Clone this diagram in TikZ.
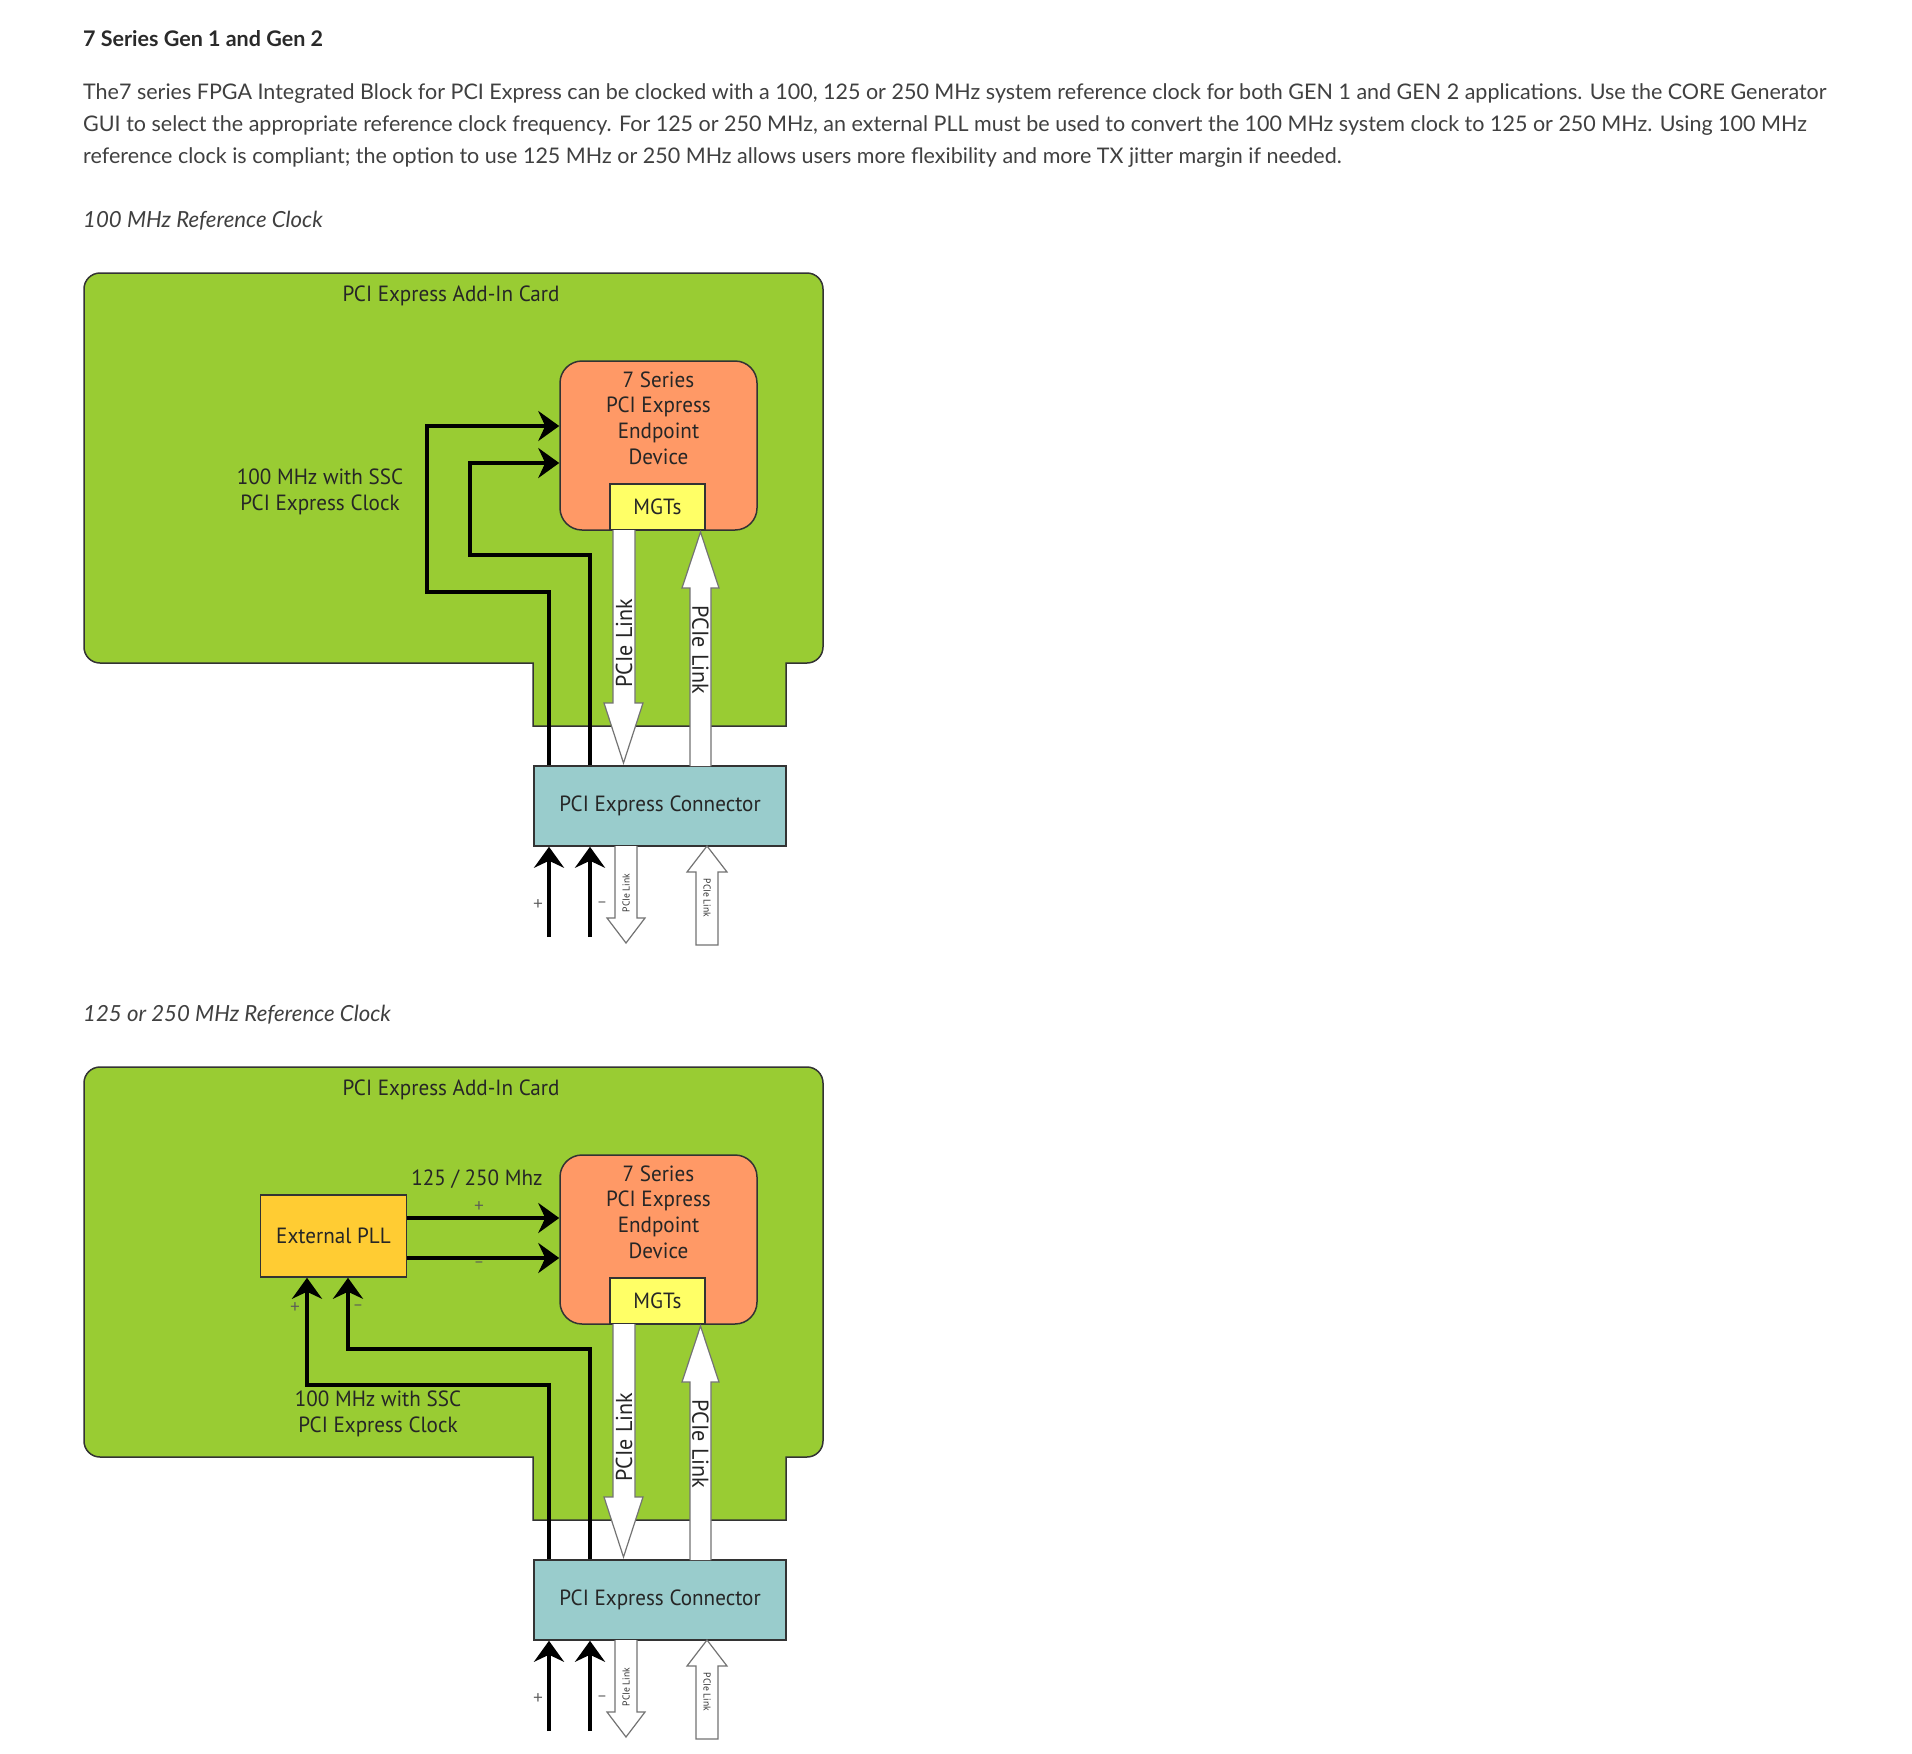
\documentclass[tikz,border=0pt]{standalone}
\usepackage{fontspec}
\setmainfont{Lato}
\newfontfamily\dfont[FakeStretch=0.96]{PT Sans}
\usetikzlibrary{arrows.meta}
\definecolor{cardgreen}{HTML}{99CC33}
\definecolor{devorange}{HTML}{FF9966}
\definecolor{mgtyellow}{HTML}{FFFF66}
\definecolor{conncyan}{HTML}{99CCCC}
\definecolor{pllamber}{HTML}{FFCC33}
\definecolor{paratext}{HTML}{404040}
\definecolor{titletext}{HTML}{2A2A2A}
\definecolor{linegray}{HTML}{333333}
\tikzset{
 para/.style={font=\fontsize{21.5}{24}\selectfont, text=paratext, inner sep=0pt, anchor=mid west},
 dlabel/.style={font=\dfont\fontsize{22}{25.8}\selectfont, text=black!85, inner sep=0pt, align=center},
 cardshape/.style={fill=cardgreen, draw=linegray, line width=1.5pt},
 devbox/.style={draw=linegray, line width=1.5pt, fill=devorange, rounded corners=22pt, minimum width=197pt, minimum height=169pt, inner sep=0pt},
 mgtbox/.style={draw=linegray, line width=1.5pt, fill=mgtyellow, minimum width=95pt, minimum height=46pt, inner sep=0pt, font=\dfont\fontsize{22}{24}\selectfont, text=black!85},
 connbox/.style={draw=linegray, line width=1.5pt, fill=conncyan, minimum width=252pt, minimum height=80pt, inner sep=0pt, font=\dfont\fontsize{22}{24}\selectfont, text=black!85},
 pllbox/.style={draw=linegray, line width=1.5pt, fill=pllamber, minimum width=146pt, minimum height=82pt, inner sep=0pt, font=\dfont\fontsize{22}{24}\selectfont, text=black!85},
 clk/.style={draw=black, line width=3.6pt, -{Stealth[length=21pt,width=30pt,inset=7pt]}},
 hollow/.style={fill=white, draw=black!55, line width=1.2pt},
 pm/.style={font=\fontsize{17}{17}\selectfont, text=black!65, inner sep=0pt},
 linklbl/.style={font=\dfont\fontsize{23}{23}\selectfont, text=black!85, inner sep=0pt},
 tinylink/.style={font=\dfont\fontsize{10}{10}\selectfont, text=black!80, inner sep=0pt},
}
\newcommand\pcicard[1]{%
 \path[cardshape] (300,273) [rounded corners=16pt] -- (823,273) -- (823,663) [sharp corners] -- (786,663) -- (786,726) -- (533,726) -- (533,663) [rounded corners=16pt] -- (84,663) -- (84,273) -- cycle;
 \node[dlabel] (#1-cardtitle) at (451,296) {PCI Express Add-In Card};
 \node[devbox] (#1-dev) at (658.5,445.5) {};
 \node[dlabel] (#1-devtxt) at (658.5,418) {7 Series\\PCI Express\\Endpoint\\Device};
 \node[mgtbox] (#1-mgt) at (657.5,507) {MGTs};
 \node[connbox] (#1-conn) at (660,806) {PCI Express Connector};
 \coordinate (#1-pin) at (549,937);
 \coordinate (#1-nin) at (590,937);
 \draw[clk] (#1-pin) -- (#1-pin |- #1-conn.south);
 \draw[clk] (#1-nin) -- (#1-nin |- #1-conn.south);
 \node[pm] (#1-plus) at (538,905) {+};
 \node[pm] (#1-minus) at (602,905) {–};
 \filldraw[hollow] (613,530) -- (613,703) -- (604,703) -- (623.5,763) -- (643,703) -- (635,703) -- (635,530);
 \filldraw[hollow] (690,766) -- (690,588) -- (682,588) -- (700.5,532) -- (719,588) -- (711,588) -- (711,766);
 \filldraw[hollow] (615,846) -- (615,918) -- (607,918) -- (626,943) -- (645,918) -- (637,918) -- (637,846);
 \filldraw[hollow] (707,846) -- (727,872) -- (718,872) -- (718,945) -- (696,945) -- (696,872) -- (687,872) -- cycle;
 \node[linklbl, rotate=90] (#1-lk1) at (624,643) {PCIe Link};
 \node[linklbl, rotate=-90] (#1-lk2) at (700.5,650) {PCIe Link};
 \node[tinylink, rotate=90] (#1-lk3) at (626,893) {PCIe Link};
 \node[tinylink, rotate=-90] (#1-lk4) at (707,898) {PCIe Link};
}
\begin{document}
\begin{tikzpicture}[x=1pt,y=-1pt]
\useasboundingbox (0,0) rectangle (1912,1754);
\fill[white] (0,0) rectangle (1912,1754);
\node[para, text=titletext] (title) at (83,44) {\bfseries 7 Series Gen 1 and Gen 2};
\node[para] (p1) at (83,97) {The7 series FPGA Integrated Block for PCI Express can be clocked with a 100, 125 or 250 MHz system reference clock for both GEN 1 and GEN 2 applications. Use the CORE Generator};
\node[para] (p2) at (83,129) {GUI to select the appropriate reference clock frequency. For 125 or 250 MHz, an external PLL must be used to convert the 100 MHz system clock to 125 or 250 MHz. Using 100 MHz};
\node[para] (p3) at (83,161) {reference clock is compliant; the option to use 125 MHz or 250 MHz allows users more flexibility and more TX jitter margin if needed.};
\node[para, font=\fontsize{22.2}{24}\selectfont] (h1) at (83,225) {\itshape 100 MHz Reference Clock};
\node[para, font=\fontsize{22.2}{24}\selectfont] (h2) at (83,1019) {\itshape 125 or 250 MHz Reference Clock};
% diagram 1
\pcicard{a}
\node[dlabel] (a-clklbl) at (320,492) {100 MHz with SSC\\PCI Express Clock};
\draw[clk] (a-pin |- a-conn.north) -- (549,592) -- (427,592) -- (427,426) -- (a-dev.west |- 0,426);
\draw[clk] (a-nin |- a-conn.north) -- (590,555) -- (470,555) -- (470,463) -- (a-dev.west |- 0,463);
% diagram 2
\begin{scope}[yshift=-794pt]
\pcicard{b}
\node[pllbox] (b-pll) at (333.5,442) {External PLL};
\node[dlabel] (b-freq) at (477,385) {125 / 250 Mhz};
\draw[clk] (b-pll.east |- 0,424) -- (b-dev.west |- 0,424);
\draw[clk] (b-pll.east |- 0,464) -- (b-dev.west |- 0,464);
\node[pm] (b-oplus) at (479,413) {+};
\node[pm] (b-ominus) at (479,471) {–};
\draw[clk] (b-pin |- b-conn.north) -- (549,591) -- (307,591) -- (b-pll.south -| 307,0);
\draw[clk] (b-nin |- b-conn.north) -- (590,555) -- (348,555) -- (b-pll.south -| 348,0);
\node[pm] (b-iplus) at (295,514) {+};
\node[pm] (b-iminus) at (358,514) {–};
\node[dlabel] (b-clklbl) at (378,620) {100 MHz with SSC\\PCI Express Clock};
\end{scope}
\end{tikzpicture}
\end{document}
